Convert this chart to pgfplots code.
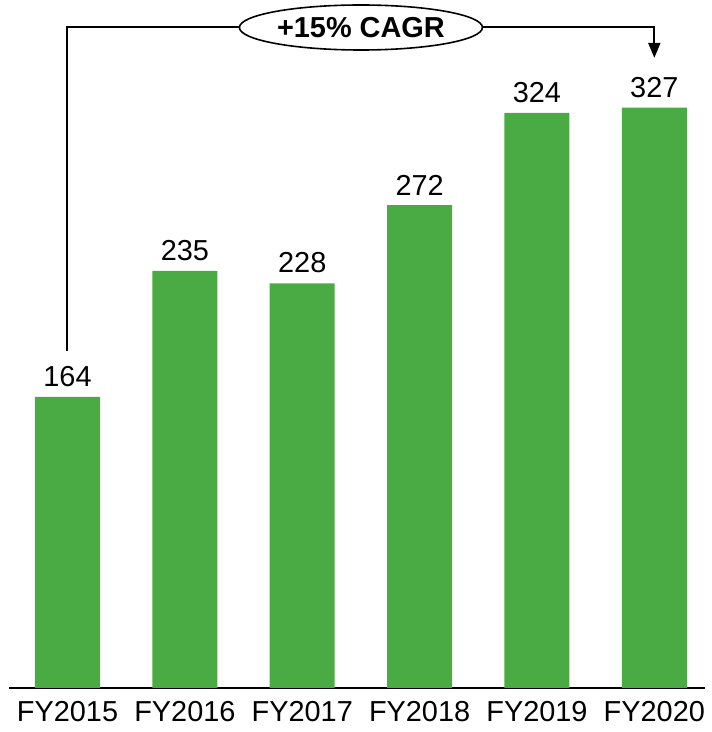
\documentclass[border=0pt]{standalone}
\usepackage{pgfplots}
\pgfplotsset{compat=1.18}
\usepackage{fontspec}
\setmainfont{Liberation Sans}
\usetikzlibrary{arrows.meta,shapes.geometric}
\definecolor{bargreen}{RGB}{74,170,67}
\begin{document}
\begin{tikzpicture}
\begin{axis}[
  scale only axis, width=348bp, height=337.25bp,
  xmin=-0.5, xmax=5.43, ymin=0, ymax=380,
  axis x line=bottom, axis y line=none,
  x axis line style={-, line width=1.25bp, black},
  xtick={0,...,5},
  xticklabels={FY2015,FY2016,FY2017,FY2018,FY2019,FY2020},
  major tick length=0pt,
  xticklabel style={font=\fontsize{14.5}{17}\selectfont, yshift=-3bp},
  ytick=\empty,
  clip=false,
  /pgf/number format/assume math mode=true,
  nodes near coords,
  nodes near coords style={font=\fontsize{14.5}{17}\selectfont, black, yshift=1.5bp},
]
\addplot[ybar, bar width=0.554, fill=bargreen, draw=none] coordinates {(0,164) (1,235) (2,228) (3,272) (4,324) (5,327)};
\draw[line width=1bp, -{Triangle[width=6bp,length=7.5bp]}] (axis cs:0,190) |- (axis cs:5,372.1) -- (axis cs:5,355);
\node[draw, ellipse, line width=0.8bp, fill=white, inner sep=0pt, minimum width=121.5bp, minimum height=22.5bp, font=\bfseries\fontsize{14.5}{17}\selectfont] at (axis cs:2.5,372.1) {+15\% CAGR};
\path (axis cs:-0.575,-24.8) rectangle (axis cs:5.43,387.6);
\end{axis}
\end{tikzpicture}
\end{document}
